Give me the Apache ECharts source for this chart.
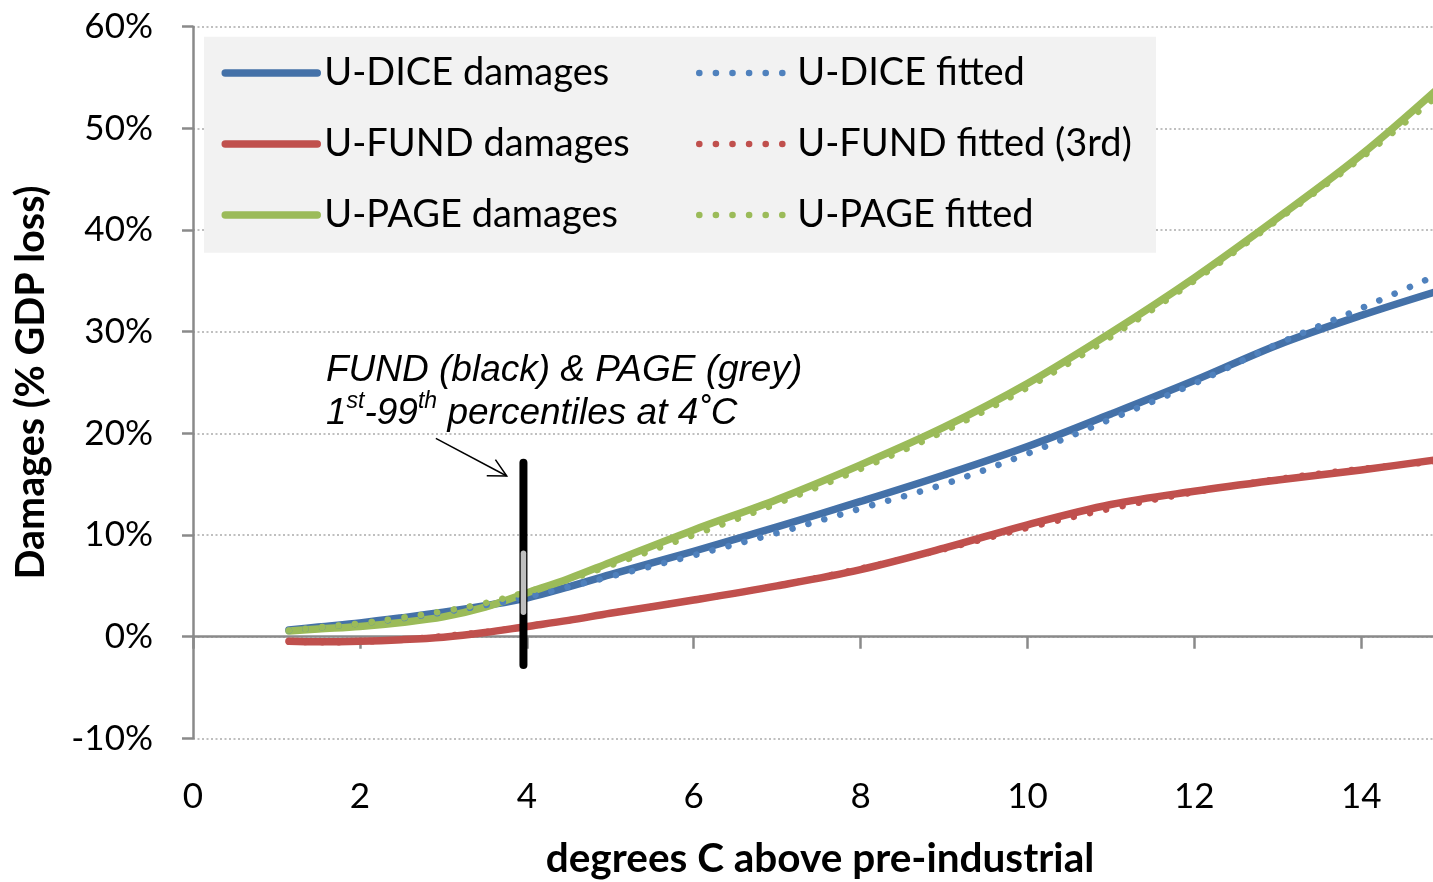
<!DOCTYPE html>
<html>
<head>
<meta charset="utf-8">
<script src="https://cdn.jsdelivr.net/npm/echarts@6/dist/echarts.min.js"></script>
<style>
html,body{margin:0;padding:0;background:#fff;}
#chart{width:1433px;height:882px;}
</style>
</head>
<body>
<div id="chart"></div>
<script>
// ---- data ----
const temps        = [1.15, 1.5, 2, 2.5, 3, 3.5, 4, 4.5, 5, 6, 7, 8, 9, 10, 11, 12, 13, 14, 15];
const diceDamages  = [0.65, 0.95, 1.35, 1.85, 2.4, 3.05, 3.8, 4.9, 6.1, 8.4, 10.8, 13.3, 15.9, 18.7, 21.9, 25.2, 28.7, 31.6, 34.2];
const diceFitted   = [0.6, 0.9, 1.3, 1.8, 2.4, 3.1, 3.9, 4.9, 5.9, 8.0, 10.2, 12.6, 15.0, 18.0, 21.4, 24.9, 28.8, 32.3, 35.9];
const fundDamages  = [-0.45, -0.5, -0.45, -0.3, -0.05, 0.4, 1.0, 1.6, 2.3, 3.6, 5.0, 6.6, 8.7, 11.0, 13.0, 14.3, 15.4, 16.4, 17.5];
const fundFitted   = [-0.5, -0.55, -0.5, -0.3, 0.05, 0.45, 1.0, 1.6, 2.3, 3.6, 5.0, 6.7, 8.6, 10.7, 12.6, 14.2, 15.5, 16.5, 17.3];
const pageDamages  = [0.55, 0.75, 1.0, 1.4, 1.95, 2.9, 4.3, 5.7, 7.3, 10.5, 13.5, 16.9, 20.6, 24.9, 29.9, 35.3, 41.2, 47.4, 54.5];
const pageFitted   = [0.6, 0.9, 1.3, 1.85, 2.5, 3.3, 4.4, 5.6, 7.0, 10.0, 13.1, 16.5, 20.2, 24.5, 29.5, 35.0, 41.0, 47.1, 53.8];
const rangeX       = 3.96;
const fundRange    = [-2.8, 17.1];   // FUND 1st-99th percentile at 4C
const pageRange    = [2.4, 8.2];     // PAGE 1st-99th percentile at 4C
const arrowFrom    = [2.91, 19.5];
const arrowTo      = [3.76, 15.8];
const xTicks       = {min: 0, max: 14.86, interval: 2};
const yTicks       = {min: -10, max: 60, interval: 10};

const names = ['U-DICE damages', 'U-FUND damages', 'U-PAGE damages',
               'U-DICE fitted', 'U-FUND fitted (3rd)', 'U-PAGE fitted'];

function pairs(xs, ys) { return xs.map((x, i) => [x, ys[i]]); }

const FONT = 'Lato';
const dotDash = [0.1, 16.5];

function solid(name, data, color) {
  return {
    name, type: 'line', data: pairs(temps, data), smooth: 0.35,
    symbol: 'none', showSymbol: false, silent: true, z: 2,
    lineStyle: {color, width: 7.5, cap: 'round', join: 'round'},
    itemStyle: {color}
  };
}
function dotted(name, data, color) {
  return {
    name, type: 'line', data: pairs(temps, data), smooth: 0.35,
    symbol: 'none', showSymbol: false, silent: true, z: 3,
    lineStyle: {color, width: 6.5, type: dotDash, cap: 'round'},
    itemStyle: {color}
  };
}

const chart = echarts.init(document.getElementById('chart'), null, {renderer: 'canvas'});

const option = {
  animation: false,
  backgroundColor: '#ffffff',
  textStyle: {fontFamily: FONT},
  grid: {left: 193, top: 26.7, right: 0, bottom: 143.7, containLabel: false, outerBoundsMode: 'none'},
  xAxis: {
    type: 'value', min: xTicks.min, max: xTicks.max, interval: xTicks.interval,
    axisLine: {show: true, onZero: true, lineStyle: {color: '#8a8a8a', width: 2.5}},
    axisTick: {show: true, inside: false, length: 12, lineStyle: {color: '#8a8a8a', width: 2.5}},
    axisLabel: {show: true, margin: 41, color: '#000', fontSize: 35, fontFamily: FONT,
                showMaxLabel: false, hideOverlap: false},
    splitLine: {show: false},
    name: 'degrees C above pre-industrial', nameLocation: 'middle', nameGap: 100,
    nameTextStyle: {fontSize: 40.5, fontWeight: 'bold', color: '#000', fontFamily: FONT, padding: [0, 0, 0, 14]}
  },
  yAxis: {
    type: 'value', min: yTicks.min, max: yTicks.max, interval: yTicks.interval,
    axisLine: {show: true, onZero: false, lineStyle: {color: '#8a8a8a', width: 2.5}},
    axisTick: {show: true, inside: false, length: 11, lineStyle: {color: '#8a8a8a', width: 2.5}},
    axisLabel: {margin: 40, color: '#000', fontSize: 35, fontFamily: FONT, formatter: '{value}%'},
    splitLine: {show: true, lineStyle: {color: '#bfbfbf', width: 2, type: [2, 2.5]}},
    name: 'Damages (% GDP loss)', nameLocation: 'middle', nameGap: 142,
    nameTextStyle: {fontSize: 39.5, fontWeight: 'bold', color: '#000', fontFamily: FONT}
  },
  legend: [
    {
      data: names.slice(0, 3), orient: 'vertical', left: 221.5, top: 53, padding: 0,
      itemWidth: 92, itemHeight: 14, itemGap: 31, selectedMode: false, z: 5,
      textStyle: {fontSize: 38, lineHeight: 40, color: '#000', fontFamily: FONT, padding: [0, 0, 0, 2]},
      lineStyle: {width: 7.5, cap: 'round'},
      itemStyle: {opacity: 0, borderWidth: 0}
    },
    {
      data: names.slice(3), orient: 'vertical', left: 696, top: 53, padding: 0,
      itemWidth: 84, itemHeight: 14, itemGap: 31, selectedMode: false, z: 5,
      textStyle: {fontSize: 38, lineHeight: 40, color: '#000', fontFamily: FONT, padding: [0, 0, 0, 9]},
      lineStyle: {width: 6.5, cap: 'round'},
      itemStyle: {opacity: 0, borderWidth: 0}
    }
  ],
  graphic: [
    {type: 'rect', z: 1, silent: true, shape: {x: 204, y: 36.7, width: 952, height: 216},
     style: {fill: '#f2f2f2'}},
    {type: 'text', z: 6, left: 326, top: 352, silent: true,
     style: {text: 'FUND (black) & PAGE (grey)', font: 'italic 37px "Liberation Sans", Arial, sans-serif', fill: '#000'}},
    {type: 'text', z: 6, left: 326, top: 390, silent: true,
     style: {
       text: '{a|1}{s|st}{a|-99}{s|th}{a| percentiles at 4˚C}',
       rich: {
         a: {font: 'italic 37px "Liberation Sans", Arial, sans-serif', fill: '#000', lineHeight: 42, verticalAlign: 'bottom'},
         s: {font: 'italic 23px "Liberation Sans", Arial, sans-serif', fill: '#000', lineHeight: 42, verticalAlign: 'top'}
       }
     }}
  ],
  series: [
    solid(names[0], diceDamages, '#4471A8'),
    solid(names[1], fundDamages, '#C0504D'),
    solid(names[2], pageDamages, '#9BBB59'),
    dotted(names[3], diceFitted, '#4F81BD'),
    dotted(names[4], fundFitted, '#C0504D'),
    dotted(names[5], pageFitted, '#9BBB59'),
    {
      name: 'FUND range', type: 'line', silent: true, symbol: 'none', z: 8,
      data: fundRange.map(v => [rangeX, v]),
      lineStyle: {color: '#000', width: 8, cap: 'round'}
    },
    {
      name: 'PAGE range', type: 'line', silent: true, symbol: 'none', z: 9,
      data: pageRange.map(v => [rangeX, v]),
      lineStyle: {color: '#bfbfbf', width: 5.5, cap: 'round'}
    },
    {
      name: 'arrow', type: 'custom', silent: true, z: 10,
      data: [[arrowFrom[0], arrowFrom[1], arrowTo[0], arrowTo[1]]],
      renderItem: function (params, api) {
        const p0 = api.coord([api.value(0), api.value(1)]);
        const p1 = api.coord([api.value(2), api.value(3)]);
        const ang = Math.atan2(p1[1] - p0[1], p1[0] - p0[0]);
        const L = 20, a = 0.48;
        const h1 = [p1[0] - L * Math.cos(ang - a), p1[1] - L * Math.sin(ang - a)];
        const h2 = [p1[0] - L * Math.cos(ang + a), p1[1] - L * Math.sin(ang + a)];
        return {
          type: 'group',
          children: [
            {type: 'line', shape: {x1: p0[0], y1: p0[1], x2: p1[0], y2: p1[1]},
             style: {stroke: '#000', lineWidth: 1.5}},
            {type: 'polyline', shape: {points: [h1, p1, h2]},
             style: {stroke: '#000', lineWidth: 1.5, fill: null}}
          ]
        };
      }
    }
  ]
};
chart.setOption(option);
</script>
</body>
</html>
